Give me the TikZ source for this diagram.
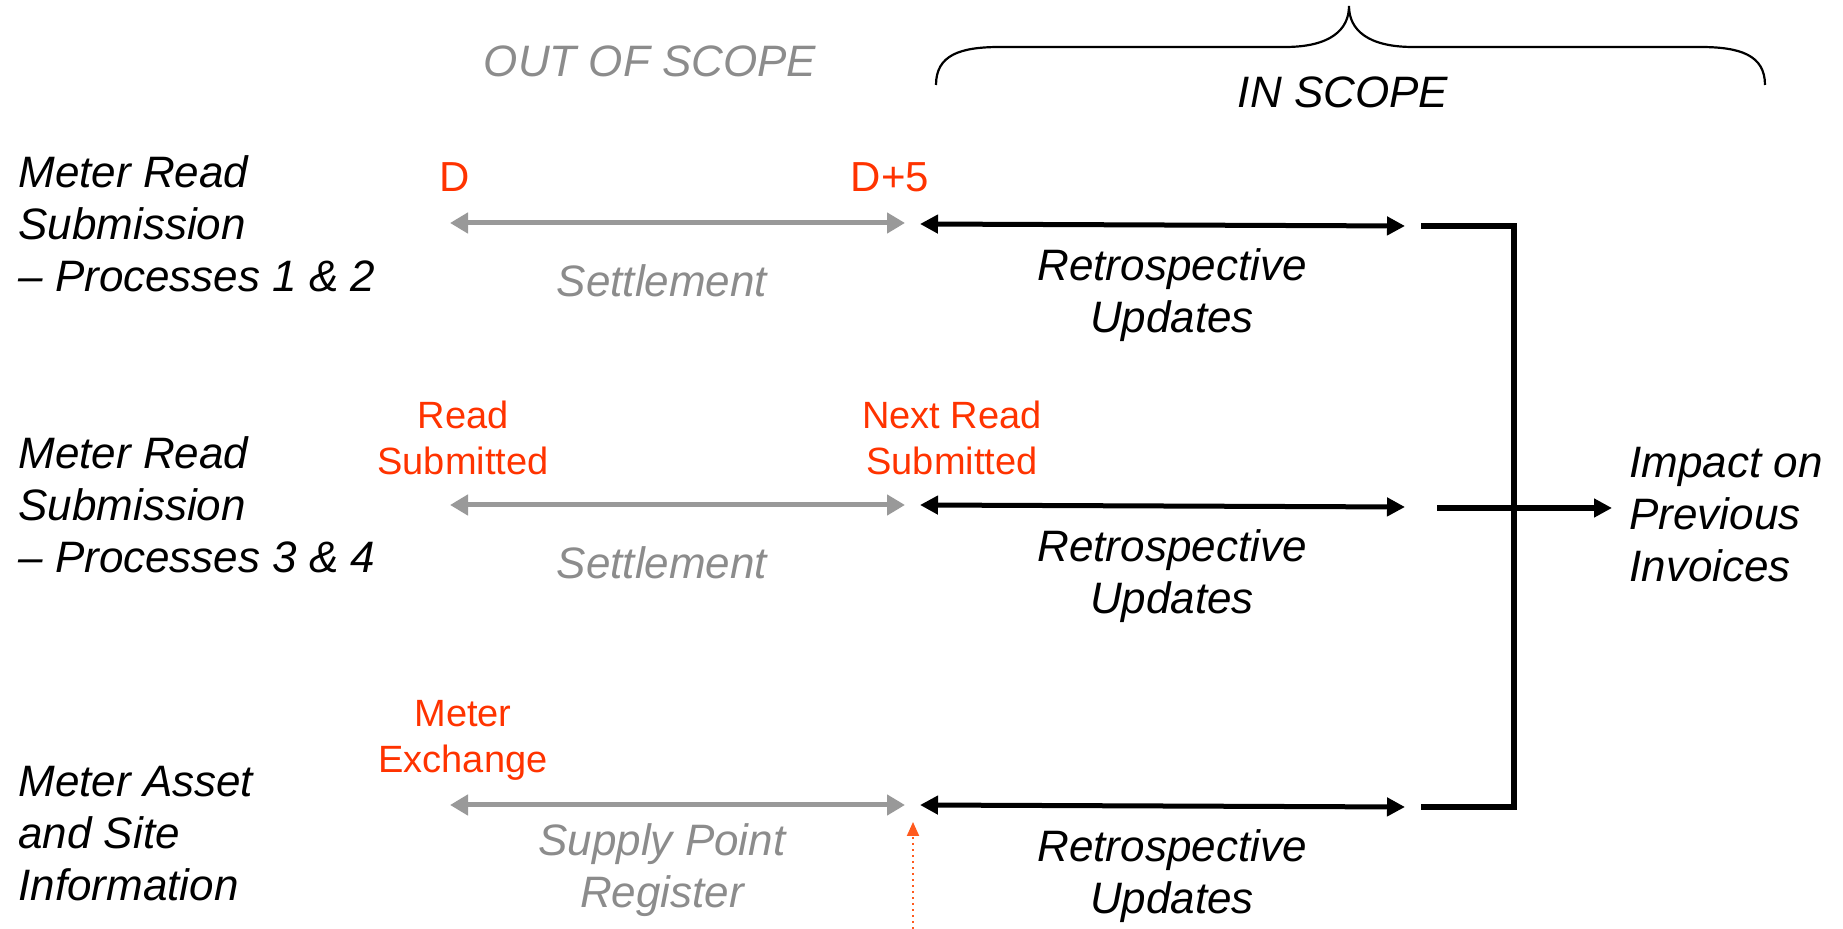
\documentclass[tikz,border=0pt]{standalone}
\usepackage{fontspec}
\setmainfont{Liberation Sans}
\usetikzlibrary{arrows.meta}
\definecolor{redlbl}{HTML}{FF3300}
\definecolor{graytxt}{HTML}{8C8C8C}
\definecolor{grayarr}{HTML}{999999}
\definecolor{dotorange}{HTML}{FF5A1E}
\begin{document}
\begin{tikzpicture}[x=0.5pt,y=-0.5pt,
  rowlabel/.style={anchor=west, align=left, inner sep=0pt, font=\fontsize{22}{26}\selectfont\itshape},
  redlabel/.style={align=center, inner sep=0pt, text=redlbl, font=\fontsize{19}{23}\selectfont},
  daylabel/.style={inner sep=0pt, text=redlbl, font=\fontsize{21}{24}\selectfont},
  graylabel/.style={align=center, inner sep=0pt, text=graytxt, font=\fontsize{22}{26}\selectfont\itshape},
  blacklabel/.style={align=center, inner sep=0pt, font=\fontsize{22}{26}\selectfont\itshape},
  grayarrow/.style={draw=grayarr, line width=2.5pt, {Triangle[length=9pt,width=10pt]}-{Triangle[length=9pt,width=10pt]}},
  blackarrow/.style={draw=black, line width=2.5pt, {Triangle[length=9pt,width=9pt]}-{Triangle[length=9pt,width=9pt]}},
  bracketline/.style={draw=black, line width=2.75pt, line join=miter},
  bracestyle/.style={draw=black, line width=1.1pt},
  dotarrow/.style={draw=dotorange, line width=1pt, dotted, -{Triangle[length=7pt,width=6pt]}},
]
\useasboundingbox (0,0) rectangle (1843,929);

% scope labels and brace
\node[graylabel] (oos) at (650,61) {OUT OF SCOPE};
\node[blacklabel] (ins) at (1343,92) {IN SCOPE};
\draw[bracestyle] (936,85) .. controls (936,55) and (960,47) .. (1000,47) -- (1285,47)
  .. controls (1330,47) and (1349,30) .. (1349,6)
  .. controls (1349,30) and (1368,47) .. (1413,47) -- (1700,47)
  .. controls (1740,47) and (1765,55) .. (1765,85);

% row labels
\node[rowlabel] (r1) at (18,224) {Meter Read\\Submission\\– Processes 1 \& 2};
\node[rowlabel] (r2) at (18,505) {Meter Read\\Submission\\– Processes 3 \& 4};
\node[rowlabel] (r3) at (18,834) {Meter Asset\\and Site\\Information};

% red markers
\node[daylabel] (d0) at (455,177) {D};
\node[daylabel] (d5) at (890,177) {D+5};
\node[redlabel] (rs) at (463,438) {Read\\Submitted};
\node[redlabel] (nrs) at (952,438) {Next Read\\Submitted};
\node[redlabel] (mx) at (463,740) {Meter\\Exchange};

% coordinates for arrows
\coordinate (g1a) at (450,223); \coordinate (g1b) at (905,223);
\coordinate (g2a) at (450,505); \coordinate (g2b) at (905,505);
\coordinate (g3a) at (450,805); \coordinate (g3b) at (905,805);
\coordinate (b1a) at (920,224); \coordinate (b1b) at (1405,226);
\coordinate (b2a) at (920,505); \coordinate (b2b) at (1405,507);
\coordinate (b3a) at (920,805); \coordinate (b3b) at (1405,807);
\coordinate (k1) at (1421,226); \coordinate (k1c) at (1514,226);
\coordinate (k3) at (1421,807); \coordinate (k3c) at (1514,807);
\coordinate (m0) at (1437,508); \coordinate (m1) at (1612,508);
\coordinate (dt0) at (913,929); \coordinate (dt1) at (913,822);

\draw[grayarrow] (g1a) -- (g1b);
\draw[grayarrow] (g2a) -- (g2b);
\draw[grayarrow] (g3a) -- (g3b);
\draw[blackarrow] (b1a) -- (b1b);
\draw[blackarrow] (b2a) -- (b2b);
\draw[blackarrow] (b3a) -- (b3b);

% gray labels
\node[graylabel] (s1) at (662,281) {Settlement};
\node[graylabel] (s2) at (662,563) {Settlement};
\node[graylabel] (s3) at (662,870) {Supply Point\\Register};

% retrospective updates
\node[blacklabel] (u1) at (1172,295) {Retrospective\\Updates};
\node[blacklabel] (u2) at (1172,576) {Retrospective\\Updates};
\node[blacklabel] (u3) at (1172,876) {Retrospective\\Updates};

% bracket and output
\draw[bracketline] (k1) -- (k1c) -- (k3c) -- (k3);
\node[rowlabel] (imp) at (1629,515) {Impact on\\Previous\\Invoices};
\draw[bracketline, -{Triangle[length=9pt,width=9pt]}] (m0) -- (m1);

% dotted marker arrow
\draw[dotarrow] (dt0) -- (dt1);
\end{tikzpicture}
\end{document}
